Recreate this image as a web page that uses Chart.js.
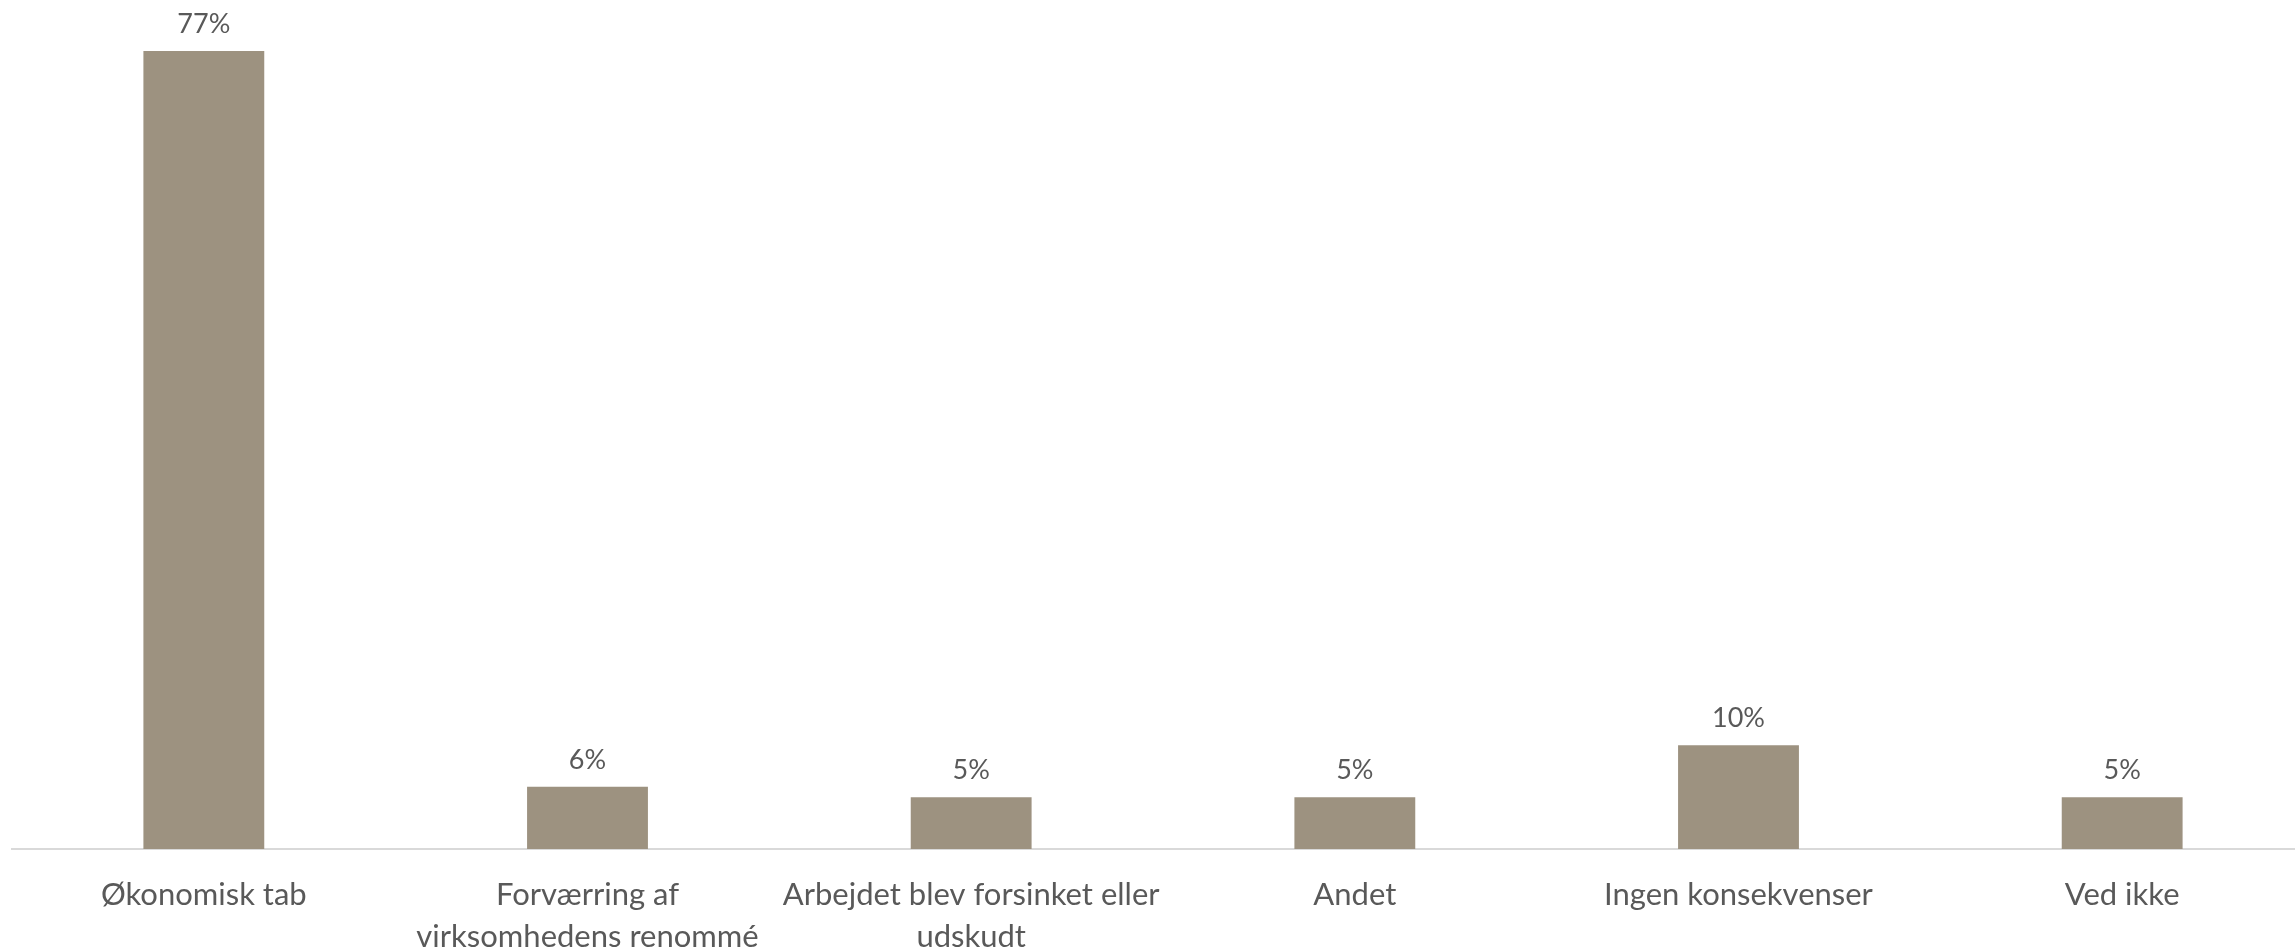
<!DOCTYPE html>
<html>
<head>
<meta charset="utf-8">
<script src="https://cdn.jsdelivr.net/npm/chart.js@4.4.1/dist/chart.umd.min.js"></script>
<style>
  html, body { margin: 0; padding: 0; background: #fff; overflow: hidden; }
  #wrap { width: 2314px; height: 951px; }
</style>
</head>
<body>
<div id="wrap"><canvas id="consequences"></canvas></div>
<script>
const categories = [
    "Økonomisk tab",
    ["Forværring af", "virksomhedens renommé"],
    ["Arbejdet blev forsinket eller", "udskudt"],
    "Andet",
    "Ingen konsekvenser",
    "Ved ikke"
];
const percentages = [77, 6, 5, 5, 10, 5];

// labels over each bar
const valueLabels = {
    id: 'valueLabels',
    afterDatasetsDraw(chart) {
        const ctx = chart.ctx;
        const meta = chart.getDatasetMeta(0);
        ctx.save();
        ctx.font = '27px Lato';
        ctx.fillStyle = '#595959';
        ctx.textAlign = 'center';
        ctx.textBaseline = 'middle';
        meta.data.forEach((bar, i) => {
            ctx.fillText(percentages[i] + '%', bar.x, bar.y - 27);
        });
        ctx.restore();
    }
};

const ctx = document.querySelector('#consequences').getContext('2d');
new Chart(ctx, {
    type: 'bar',
    data: {
        labels: categories,
        datasets: [{
            data: percentages,
            backgroundColor: '#9d9280',
            barPercentage: 0.315,
            categoryPercentage: 1
        }]
    },
    options: {
        responsive: true,
        maintainAspectRatio: false,
        animation: false,
        layout: {
            padding: { left: 12, right: 0, top: 51, bottom: 0 }
        },
        plugins: {
            legend: { display: false },
            tooltip: { enabled: false }
        },
        scales: {
            x: {
                grid: { display: false },
                border: { color: '#d9d9d9', width: 2 },
                ticks: {
                    color: '#595959',
                    padding: 17,
                    maxRotation: 0,
                    autoSkip: false,
                    font: { family: 'Lato', size: 31, lineHeight: 1.36 }
                },
                afterFit(scale) {
                    scale.height = 102;
                }
            },
            y: {
                display: false,
                min: 0,
                max: 77
            }
        }
    },
    plugins: [valueLabels]
});
</script>
</body>
</html>
